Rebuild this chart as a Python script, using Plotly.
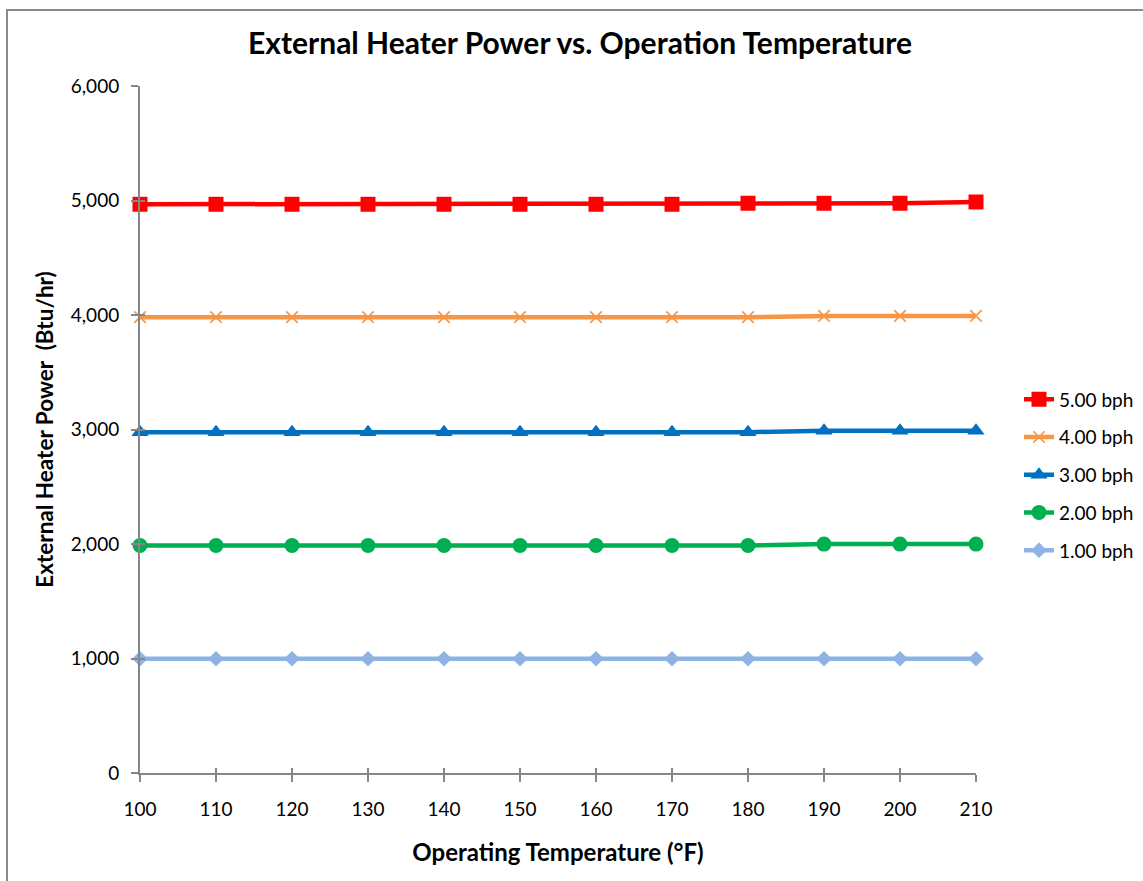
import plotly.graph_objects as go

# Operating temperature (°F) and heater power (Btu/hr) for each flow rate
temps = [100, 110, 120, 130, 140, 150, 160, 170, 180, 190, 200, 210]
power_5bph = [4967, 4967, 4967, 4967, 4967, 4967, 4967, 4967, 4976, 4976, 4976, 4987]
power_4bph = [3981, 3981, 3981, 3981, 3981, 3981, 3981, 3981, 3981, 3992, 3992, 3992]
power_3bph = [2977, 2977, 2977, 2977, 2977, 2977, 2977, 2977, 2977, 2988, 2988, 2988]
power_2bph = [1987, 1987, 1987, 1987, 1987, 1987, 1987, 1987, 1987, 1999, 1999, 1999]
power_1bph = [998, 998, 998, 998, 998, 998, 998, 998, 998, 998, 998, 998]

series = [
    ("5.00 bph", power_5bph, "#FF0000", dict(symbol="square", size=15)),
    ("4.00 bph", power_4bph, "#F79646", dict(symbol="x-thin-open", size=11.5,
                                             line=dict(width=1.6, color="#F79646"))),
    ("3.00 bph", power_3bph, "#0070C0", dict(symbol="triangle-up", size=15)),
    ("2.00 bph", power_2bph, "#00B050", dict(symbol="circle", size=15)),
    ("1.00 bph", power_1bph, "#8EB4E3", dict(symbol="diamond", size=12)),
]

W, H = 1143, 881
L, R, T, B = 140, W - 976, 86, H - 773

fig = go.Figure()
for i, (name, vals, color, mk) in enumerate(series):
    marker = dict(color=color, **mk)
    fig.add_trace(go.Scatter(
        x=temps, y=vals, name=name, mode="lines+markers",
        line=dict(color=color, width=4.5), marker=marker,
        cliponaxis=False, legendgroup=f"g{i}",
    ))

axis_color = "#868686"
font_main = "Lato, Calibri, sans-serif"

fig.update_layout(
    width=W, height=H,
    margin=dict(l=L, r=R, t=T, b=B, autoexpand=False),
    paper_bgcolor="white", plot_bgcolor="white",
    font=dict(family=font_main, color="#000000", size=19),
    title=dict(
        text="<b>External Heater Power vs. Operation Temperature</b>",
        x=580 / W, xanchor="center", y=1 - 43 / H, yanchor="middle",
        font=dict(size=30, family=font_main, color="#000000"),
    ),
    legend=dict(
        x=(1019 - L) / (W - L - R), xanchor="left",
        y=(773 - 475) / (H - T - B), yanchor="middle",
        font=dict(size=19, family=font_main, color="#000000"),
        traceorder="grouped", tracegroupgap=10,
        bgcolor="rgba(0,0,0,0)",
    ),
    xaxis=dict(
        range=[100, 210], tickmode="array", tickvals=temps,
        showgrid=False, zeroline=False,
        showline=True, linecolor=axis_color, linewidth=2,
        ticks="outside", ticklen=7, tickwidth=1.5, tickcolor=axis_color,
        ticklabelstandoff=11,
        tickfont=dict(size=19),
        title=dict(text="<b>Operating Temperature (°F)</b>", standoff=25,
                   font=dict(size=24)),
    ),
    yaxis=dict(
        range=[0, 6000], tickvals=[0, 1000, 2000, 3000, 4000, 5000, 6000],
        tickformat=",", showgrid=False, zeroline=False,
        showline=True, linecolor=axis_color, linewidth=2,
        ticks="outside", ticklen=7, tickwidth=1.5, tickcolor=axis_color,
        ticklabelstandoff=8,
        tickfont=dict(size=19),
        title=dict(text="<b>External Heater Power  (Btu/hr)</b>", standoff=11,
                   font=dict(size=22.5)),
    ),
    # overlay axes give the inner half of the crossing tick marks
    xaxis2=dict(overlaying="x", matches="x", anchor="y", side="bottom",
                range=[100, 210], tickmode="array", tickvals=temps,
                showticklabels=False, showgrid=False, zeroline=False,
                showline=False, ticks="inside", ticklen=5, tickwidth=1.5,
                tickcolor=axis_color),
    yaxis2=dict(overlaying="y", matches="y", anchor="x", side="left",
                range=[0, 6000], tickvals=[0, 1000, 2000, 3000, 4000, 5000, 6000],
                showticklabels=False, showgrid=False, zeroline=False,
                showline=False, ticks="inside", ticklen=5, tickwidth=1.5,
                tickcolor=axis_color),
)

# invisible trace anchoring the overlay axes
fig.add_trace(go.Scatter(x=[100], y=[0], xaxis="x2", yaxis="y2", mode="markers",
                         marker=dict(opacity=0), showlegend=False, hoverinfo="skip"))

# chart area border
pw, ph = W - L - R, H - T - B
fig.add_shape(type="rect", xref="paper", yref="paper",
              x0=(7 - L) / pw, x1=(1150 - L) / pw,
              y0=(773 - 890) / ph, y1=(773 - 10) / ph,
              line=dict(color="#8C8C8C", width=2), fillcolor="rgba(0,0,0,0)",
              layer="below")

fig.write_html("out.html")
